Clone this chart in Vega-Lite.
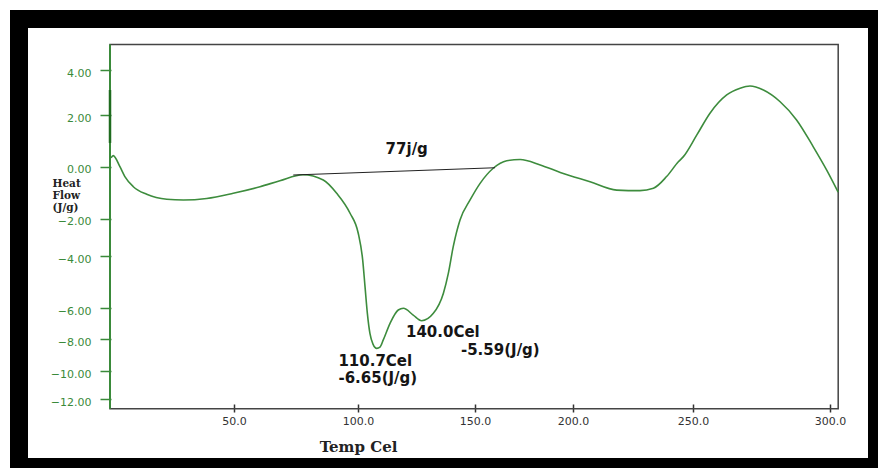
{
  "$schema": "https://vega.github.io/schema/vega-lite/v6.json",
  "width": 858,
  "height": 448,
  "autosize": {"type": "none"},
  "padding": {"left": 19, "top": 19, "right": 1, "bottom": 1},
  "background": "white",
  "view": {"fill": "white", "stroke": "black", "strokeWidth": 18},
  "datasets": {
    "curve": [
      {"T": 0.4, "H": 0.34}, {"T": 1.3, "H": 0.43}, {"T": 4.0, "H": 0.0}, {"T": 6.0, "H": -0.38},
      {"T": 9.4, "H": -0.77}, {"T": 14.8, "H": -1.06}, {"T": 22.9, "H": -1.25}, {"T": 29.6, "H": -1.28},
      {"T": 39.0, "H": -1.22}, {"T": 49.7, "H": -1.02}, {"T": 60.5, "H": -0.77}, {"T": 68.5, "H": -0.54},
      {"T": 77.8, "H": -0.31}, {"T": 86.0, "H": -0.51}, {"T": 91.4, "H": -1.02}, {"T": 96.8, "H": -1.79},
      {"T": 100.1, "H": -2.78}, {"T": 102.0, "H": -4.15}, {"T": 103.0, "H": -5.18}, {"T": 104.0, "H": -6.34},
      {"T": 105.1, "H": -7.62}, {"T": 106.4, "H": -8.3}, {"T": 108.0, "H": -8.57}, {"T": 109.4, "H": -8.49},
      {"T": 110.8, "H": -8.04}, {"T": 113.7, "H": -6.98}, {"T": 117.2, "H": -6.13}, {"T": 119.4, "H": -6.02},
      {"T": 123.6, "H": -6.45}, {"T": 127.2, "H": -6.81}, {"T": 132.2, "H": -6.34}, {"T": 136.5, "H": -5.43},
      {"T": 138.6, "H": -4.67}, {"T": 140.7, "H": -3.5}, {"T": 143.6, "H": -2.07}, {"T": 147.9, "H": -1.28},
      {"T": 152.6, "H": -0.64}, {"T": 159.3, "H": -0.06}, {"T": 166.2, "H": 0.23}, {"T": 173.0, "H": 0.28},
      {"T": 183.3, "H": 0.07}, {"T": 193.5, "H": -0.22}, {"T": 207.1, "H": -0.58}, {"T": 218.2, "H": -0.9},
      {"T": 227.9, "H": -0.92}, {"T": 233.5, "H": -0.83}, {"T": 239.0, "H": -0.38}, {"T": 243.9, "H": 0.19},
      {"T": 246.0, "H": 0.39}, {"T": 251.4, "H": 1.23}, {"T": 256.2, "H": 2.08}, {"T": 262.3, "H": 2.89},
      {"T": 267.2, "H": 3.19}, {"T": 270.8, "H": 3.29}, {"T": 275.7, "H": 3.11}, {"T": 281.8, "H": 2.59},
      {"T": 287.8, "H": 1.81}, {"T": 293.9, "H": 0.77}, {"T": 298.8, "H": -0.13}, {"T": 303.0, "H": -0.98}
    ],
    "baseline": [{"T": 73.9, "H": -0.32}, {"T": 160.2, "H": -0.04}],
    "notes": [
      {"T": 111.8, "H": 0.68, "label": "77j/g"},
      {"T": 120.5, "H": -7.51, "label": "140.0Cel"},
      {"T": 144.0, "H": -8.68, "label": "-5.59(J/g)"},
      {"T": 92.1, "H": -9.35, "label": "110.7Cel"},
      {"T": 92.1, "H": -10.47, "label": "-6.65(J/g)"}
    ]
  },
  "layer": [
    {
      "data": {"values": [{}]},
      "mark": {"type": "rect", "filled": false, "stroke": "#444", "strokeWidth": 1.5},
      "encoding": {
        "x": {"datum": 0, "type": "quantitative"},
        "x2": {"datum": 303},
        "y": {"datum": -12.66, "type": "quantitative"},
        "y2": {"datum": 5.14}
      }
    },
    {
      "data": {"name": "curve"},
      "mark": {"type": "line", "color": "#3d8c3d", "strokeWidth": 1.6, "interpolate": "monotone"},
      "encoding": {
        "x": {
          "field": "T", "type": "quantitative",
          "scale": {"domain": [-36.7, 0, 50, 100, 150, 200, 250, 300, 317.2], "range": [0, 91, 215, 339, 456, 554, 674, 811, 858], "nice": false, "zero": false},
          "axis": {
            "values": [50, 100, 150, 200, 250, 300], "format": ".1f", "offset": -63, "domain": false, "grid": false,
            "tickSize": 8, "tickColor": "#333", "tickWidth": 1.5,
            "labelFont": "DejaVu Sans", "labelFontSize": 11, "labelColor": "#333", "labelPadding": 3,
            "labelOverlap": false, "labelFlush": false, "labelBound": false,
            "title": "Temp Cel", "titleFont": "DejaVu Serif", "titleFontWeight": "bold", "titleFontSize": 15,
            "titleColor": "#222", "titleX": 339, "titleY": 42, "titleAlign": "center", "titleBaseline": "middle"
          }
        },
        "y": {
          "field": "H", "type": "quantitative",
          "scale": {"domain": [-16.78, -12, -10, -8, -6, -4, -2, 0, 2, 4, 6.27], "range": [448, 380.3, 352, 320.3, 289, 237, 199.7, 147.7, 96, 51, 0], "nice": false, "zero": false},
          "axis": {
            "values": [-12, -10, -8, -6, -4, -2, 0, 2, 4], "format": ".2f", "offset": -92, "domain": false, "grid": false,
            "tickSize": 11, "tickColor": "#3a8a3a", "tickWidth": 1.5,
            "labelFont": "DejaVu Sans", "labelFontSize": 11, "labelColor": "#3a8a3a", "labelPadding": 9, "labelOffset": 3,
            "labelOverlap": false, "labelFlush": false, "labelBound": false,
            "title": ["Heat", "Flow", "(J/g)"], "titleAngle": 0, "titleAlign": "left", "titleBaseline": "top",
            "titleX": -59, "titleY": 159, "titleFont": "DejaVu Serif", "titleFontWeight": "bold", "titleFontSize": 10.5,
            "titleLineHeight": 12, "titleColor": "#222"
          }
        }
      }
    },
    {
      "data": {"values": [{}]},
      "mark": {"type": "rule", "color": "#3a8a3a", "strokeWidth": 2},
      "encoding": {
        "x": {"datum": 0, "type": "quantitative"},
        "y": {"datum": -12.66, "type": "quantitative"},
        "y2": {"datum": 5.14}
      }
    },
    {
      "data": {"values": [{}]},
      "mark": {"type": "rule", "color": "#1f6b1f", "strokeWidth": 2.5},
      "encoding": {
        "x": {"datum": 0, "type": "quantitative"},
        "y": {"datum": 0.92, "type": "quantitative"},
        "y2": {"datum": 3.11}
      }
    },
    {
      "data": {"name": "baseline"},
      "mark": {"type": "line", "color": "#222", "strokeWidth": 1.2},
      "encoding": {
        "x": {"field": "T", "type": "quantitative"},
        "y": {"field": "H", "type": "quantitative"}
      }
    },
    {
      "data": {"name": "notes"},
      "mark": {"type": "text", "align": "left", "baseline": "middle", "font": "DejaVu Sans", "fontWeight": "bold", "fontSize": 15, "color": "#151515"},
      "encoding": {
        "x": {"field": "T", "type": "quantitative"},
        "y": {"field": "H", "type": "quantitative"},
        "text": {"field": "label", "type": "nominal"}
      }
    }
  ]
}
